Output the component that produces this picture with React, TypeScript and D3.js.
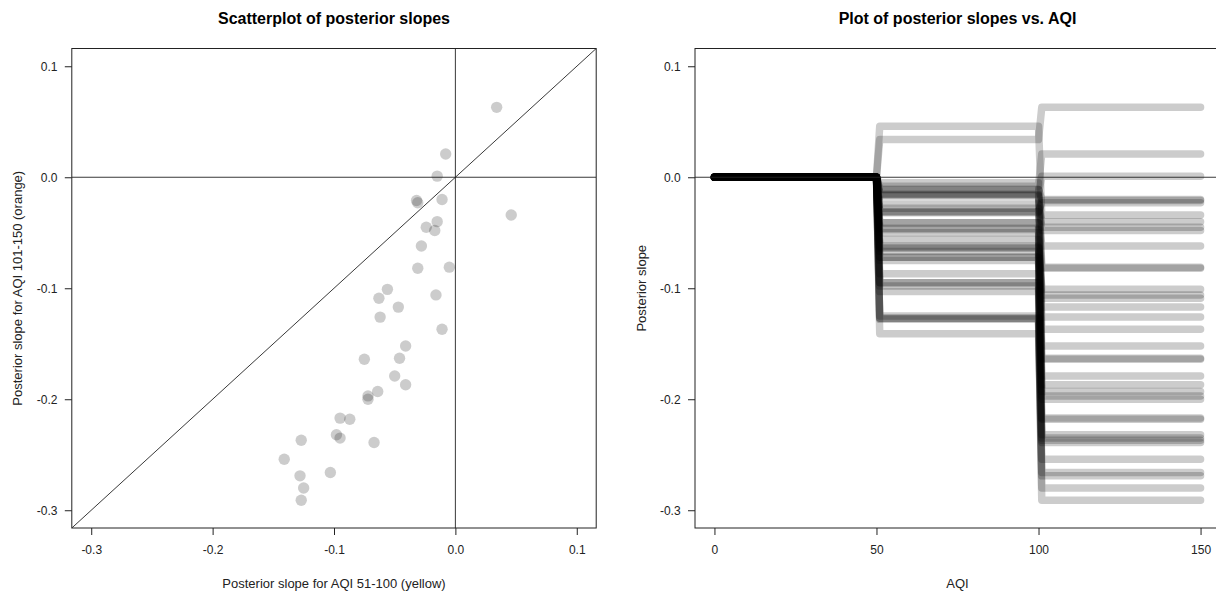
import React, { useRef, useEffect } from "react";
import * as d3 from "d3";

// posterior slope draws, one pair per sample
const slopeYellow = [
  0.034, -0.008, -0.015, -0.032, -0.031, -0.011, 0.046, -0.015, -0.024, -0.017,
  -0.028, -0.031, -0.005, -0.056, -0.063, -0.016, -0.047, -0.062, -0.011, -0.041,
  -0.075, -0.046, -0.05, -0.041, -0.064, -0.072, -0.072, -0.095, -0.087, -0.098,
  -0.095, -0.067, -0.127, -0.141, -0.103, -0.128, -0.125, -0.127,
];
const slopeOrange = [
  0.063, 0.021, 0.001, -0.021, -0.023, -0.02, -0.034, -0.04, -0.045, -0.048,
  -0.062, -0.082, -0.081, -0.101, -0.109, -0.106, -0.117, -0.126, -0.137, -0.152,
  -0.164, -0.163, -0.179, -0.187, -0.193, -0.197, -0.2, -0.217, -0.218, -0.232,
  -0.235, -0.239, -0.237, -0.254, -0.266, -0.269, -0.28, -0.291,
];
const slopeTicks = [-0.3, -0.2, -0.1, 0.0, 0.1];
const aqiTicks = [0, 50, 100, 150];

const W = 1216;
const H = 592;
const FONT = "'Liberation Sans', Arial, sans-serif";
const INK = "#222";

export default function App() {
  const ref = useRef<SVGSVGElement | null>(null);

  useEffect(() => {
    const svg = d3.select(ref.current);
    svg.selectAll("*").remove();

    const top = 48.5;
    const bottom = 528;
    const y = d3.scaleLinear().domain([-0.316, 0.116]).range([bottom, top]);
    const xL = d3.scaleLinear().domain([-0.316, 0.116]).range([71.8, 596.2]);
    const xR = d3.scaleLinear().domain([-6, 156]).range([695, 1220]);
    // R prints a plain hyphen, not the unicode minus d3 uses
    const fmt = (d: number) => d3.format(".1f")(d).replace("\u2212", "-");

    const defs = svg.append("defs");
    const clip = (id: string, x: d3.ScaleLinear<number, number>) =>
      defs
        .append("clipPath")
        .attr("id", id)
        .append("rect")
        .attr("x", x.range()[0])
        .attr("y", top)
        .attr("width", x.range()[1] - x.range()[0])
        .attr("height", bottom - top);
    clip("clipL", xL);
    clip("clipR", xR);

    const frame = (x: d3.ScaleLinear<number, number>) =>
      svg
        .append("rect")
        .attr("x", x.range()[0])
        .attr("y", top)
        .attr("width", x.range()[1] - x.range()[0])
        .attr("height", bottom - top)
        .attr("fill", "none")
        .attr("stroke", INK)
        .attr("stroke-width", 1);

    const axes = (
      x: d3.ScaleLinear<number, number>,
      xt: number[],
      xf: (d: number) => string
    ) => {
      svg
        .append("g")
        .attr("transform", `translate(0,${bottom})`)
        .call(
          d3
            .axisBottom(x)
            .tickValues(xt)
            .tickFormat((d) => xf(d as number))
            .tickSize(7)
            .tickPadding(10)
            .tickSizeOuter(0)
        )
        .call((g) => g.select(".domain").remove());
      svg
        .append("g")
        .attr("transform", `translate(${x.range()[0]},0)`)
        .call(
          d3
            .axisLeft(y)
            .tickValues(slopeTicks)
            .tickFormat((d) => fmt(d as number))
            .tickSize(7)
            .tickPadding(7.4)
            .tickSizeOuter(0)
        )
        .call((g) => g.select(".domain").remove());
    };

    const labels = (
      x: d3.ScaleLinear<number, number>,
      title: string,
      xlab: string,
      ylab: string,
      ylabX: number
    ) => {
      const cx = (x.range()[0] + x.range()[1]) / 2;
      svg
        .append("text")
        .attr("x", cx)
        .attr("y", 24)
        .attr("text-anchor", "middle")
        .attr("font-weight", "bold")
        .attr("font-size", 16)
        .attr("fill", "#000")
        .text(title);
      svg
        .append("text")
        .attr("x", cx)
        .attr("y", 588)
        .attr("text-anchor", "middle")
        .attr("font-size", 13)
        .attr("fill", INK)
        .text(xlab);
      svg
        .append("text")
        .attr("transform", `translate(${ylabX},${(top + bottom) / 2}) rotate(-90)`)
        .attr("text-anchor", "middle")
        .attr("dy", "0.35em")
        .attr("font-size", 13)
        .attr("fill", INK)
        .text(ylab);
    };

    // ---- left: scatterplot
    const gL = svg.append("g").attr("clip-path", "url(#clipL)");
    gL.selectAll("circle")
      .data(slopeYellow.map((b1, i) => [b1, slopeOrange[i]]))
      .join("circle")
      .attr("cx", (d) => xL(d[0]))
      .attr("cy", (d) => y(d[1]))
      .attr("r", 5.7)
      .attr("fill", "rgba(0,0,0,0.2)");
    const [lo, hi] = xL.domain();
    gL.append("line")
      .attr("x1", xL(lo)).attr("x2", xL(hi))
      .attr("y1", y(0)).attr("y2", y(0));
    gL.append("line")
      .attr("x1", xL(0)).attr("x2", xL(0))
      .attr("y1", y(lo)).attr("y2", y(hi));
    gL.append("line")
      .attr("x1", xL(lo)).attr("x2", xL(hi))
      .attr("y1", y(lo)).attr("y2", y(hi));
    gL.selectAll("line").attr("stroke", INK).attr("stroke-width", 0.9);

    frame(xL);
    axes(xL, slopeTicks, fmt);
    labels(
      xL,
      "Scatterplot of posterior slopes",
      "Posterior slope for AQI 51-100 (yellow)",
      "Posterior slope for AQI 101-150 (orange)",
      17
    );

    // ---- right: step lines per sample
    const steps = slopeYellow.map((b1, i) => [
      [0, 0],
      [50, 0],
      [51, b1],
      [100, b1],
      [101, slopeOrange[i]],
      [150, slopeOrange[i]],
    ]);
    const line = d3
      .line<number[]>()
      .x((d) => xR(d[0]))
      .y((d) => y(d[1]));
    const gR = svg.append("g").attr("clip-path", "url(#clipR)");
    gR.selectAll("path")
      .data(steps)
      .join("path")
      .attr("d", line)
      .attr("fill", "none")
      .attr("stroke", "rgba(0,0,0,0.2)")
      .attr("stroke-width", 7.5)
      .attr("stroke-linecap", "round")
      .attr("stroke-linejoin", "round");
    gR.append("line")
      .attr("x1", xR(-6)).attr("x2", xR(156))
      .attr("y1", y(0)).attr("y2", y(0))
      .attr("stroke", INK)
      .attr("stroke-width", 0.9);

    frame(xR);
    axes(xR, aqiTicks, (d) => String(d));
    labels(xR, "Plot of posterior slopes vs. AQI", "AQI", "Posterior slope", 641);

    svg.selectAll(".tick text").attr("font-size", 12).attr("font-family", FONT);
    svg.selectAll(".tick").attr("color", INK);
  }, []);

  return (
    <svg
      ref={ref}
      width={W}
      height={H}
      style={{ position: "absolute", left: 0, top: 0, background: "#fff", fontFamily: FONT }}
    />
  );
}
